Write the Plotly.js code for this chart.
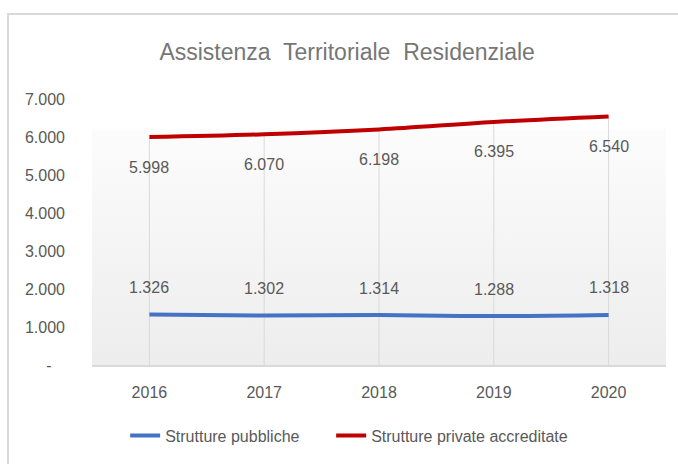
<!DOCTYPE html>
<html>
<head>
<meta charset="utf-8">
<script src="https://cdn.plot.ly/plotly-3.0.1.min.js"></script>
<style>
  html, body { margin: 0; padding: 0; background: #ffffff; }
  #wrap { position: relative; width: 678px; height: 464px; overflow: hidden; }
  #frame { position: absolute; left: 7px; top: 13px; width: 700px; height: 500px;
           border-left: 2px solid #d9d9d9; border-top: 2px solid #d9d9d9; }
  #chart { position: absolute; left: 0; top: 0; width: 678px; height: 464px; }
</style>
</head>
<body>
<div id="wrap">
  <div id="frame"></div>
  <div id="chart"></div>
</div>
<script>
// ---- data ----
const years = ['2016', '2017', '2018', '2019', '2020'];
const pubbliche = [1326, 1302, 1314, 1288, 1318];
const private_accr = [5998, 6070, 6198, 6395, 6540];
const seriesNames = ['Strutture pubbliche', 'Strutture private accreditate'];
const yTickVals = [0, 1000, 2000, 3000, 4000, 5000, 6000, 7000];
const yTickText = ['-\u00a0\u00a0\u00a0', '1.000', '2.000', '3.000', '4.000', '5.000', '6.000', '7.000'];

const FONT = 'Liberation Sans, Arial, sans-serif';
const GRAY = '#595959';
const BLUE = '#4472C4';
const RED = '#C00000';
const PAD = '\u00a0\u00a0\u00a0\u00a0\u00a0\u00a0';

function fmt(v) {
  return String(v).replace(/\B(?=(\d{3})+(?!\d))/g, '.');
}

// drop lines from highest point to axis
const dropMax = years.map((y, i) => Math.max(pubbliche[i], private_accr[i]));
const dropTrace = {
  x: years, y: dropMax, type: 'scatter', mode: 'markers',
  marker: { size: 1, opacity: 0 },
  error_y: { type: 'data', symmetric: false, array: years.map(() => 0),
             arrayminus: dropMax, width: 0, color: '#d9d9d9', thickness: 1 },
  showlegend: false, hoverinfo: 'skip'
};

const tracePub = {
  x: years, y: pubbliche, type: 'scatter', mode: 'lines', name: seriesNames[0] + PAD,
  line: { color: BLUE, width: 4, shape: 'spline' }
};
const tracePriv = {
  x: years, y: private_accr, type: 'scatter', mode: 'lines', name: seriesNames[1],
  line: { color: RED, width: 4, shape: 'spline' }
};

const annotations = [];
years.forEach((yr, i) => {
  annotations.push({ x: i, y: pubbliche[i], xref: 'x', yref: 'y', text: fmt(pubbliche[i]),
    showarrow: false, yshift: 27, font: { family: FONT, size: 16, color: GRAY } });
  annotations.push({ x: i, y: private_accr[i], xref: 'x', yref: 'y', text: fmt(private_accr[i]),
    showarrow: false, yshift: -30, font: { family: FONT, size: 16, color: GRAY } });
});

const gradSvg = '<svg xmlns="http://www.w3.org/2000/svg" width="100" height="100" preserveAspectRatio="none">' +
  '<defs><linearGradient id="g" x1="0" y1="0" x2="0" y2="1">' +
  '<stop offset="0" stop-color="#ffffff"/>' +
  '<stop offset="0.11" stop-color="#ffffff"/>' +
  '<stop offset="0.115" stop-color="#fcfcfc"/>' +
  '<stop offset="1" stop-color="#ededed"/>' +
  '</linearGradient></defs><rect width="100" height="100" fill="url(#g)"/></svg>';

const layout = {
  width: 678, height: 464,
  margin: { l: 92, r: 12, t: 99, b: 97 },
  paper_bgcolor: 'rgba(0,0,0,0)',
  plot_bgcolor: 'rgba(0,0,0,0)',
  separators: ',.',
  title: { text: 'Assistenza  Territoriale  Residenziale', x: 0.512, xanchor: 'center', y: 0.889, yanchor: 'middle',
           font: { family: FONT, size: 23, color: '#767676' } },
  xaxis: {
    type: 'category', range: [-0.5, years.length - 0.5], showgrid: false, zeroline: false,
    showline: true, linecolor: '#d9d9d9', linewidth: 2,
    ticks: '', tickfont: { family: FONT, size: 16, color: GRAY },
    ticklabelstandoff: 12
  },
  yaxis: {
    range: [0, 7000], tickvals: yTickVals, ticktext: yTickText,
    showgrid: false, zeroline: false, showline: false,
    ticks: '', tickfont: { family: FONT, size: 16, color: GRAY },
    ticklabelstandoff: 26
  },
  legend: {
    orientation: 'h', x: 0.448, xanchor: 'center', y: -0.265, yanchor: 'middle',
    font: { family: FONT, size: 16, color: GRAY }, itemwidth: 30,
    bgcolor: 'rgba(0,0,0,0)'
  },
  images: [{
    source: 'data:image/svg+xml;charset=utf-8,' + encodeURIComponent(gradSvg),
    xref: 'paper', yref: 'paper', x: 0, y: 1, sizex: 1, sizey: 1,
    xanchor: 'left', yanchor: 'top', sizing: 'stretch', layer: 'below'
  }],
  annotations: annotations,
  showlegend: true
};

Plotly.newPlot('chart', [dropTrace, tracePub, tracePriv], layout, { displayModeBar: false, staticPlot: true });
</script>
</body>
</html>
